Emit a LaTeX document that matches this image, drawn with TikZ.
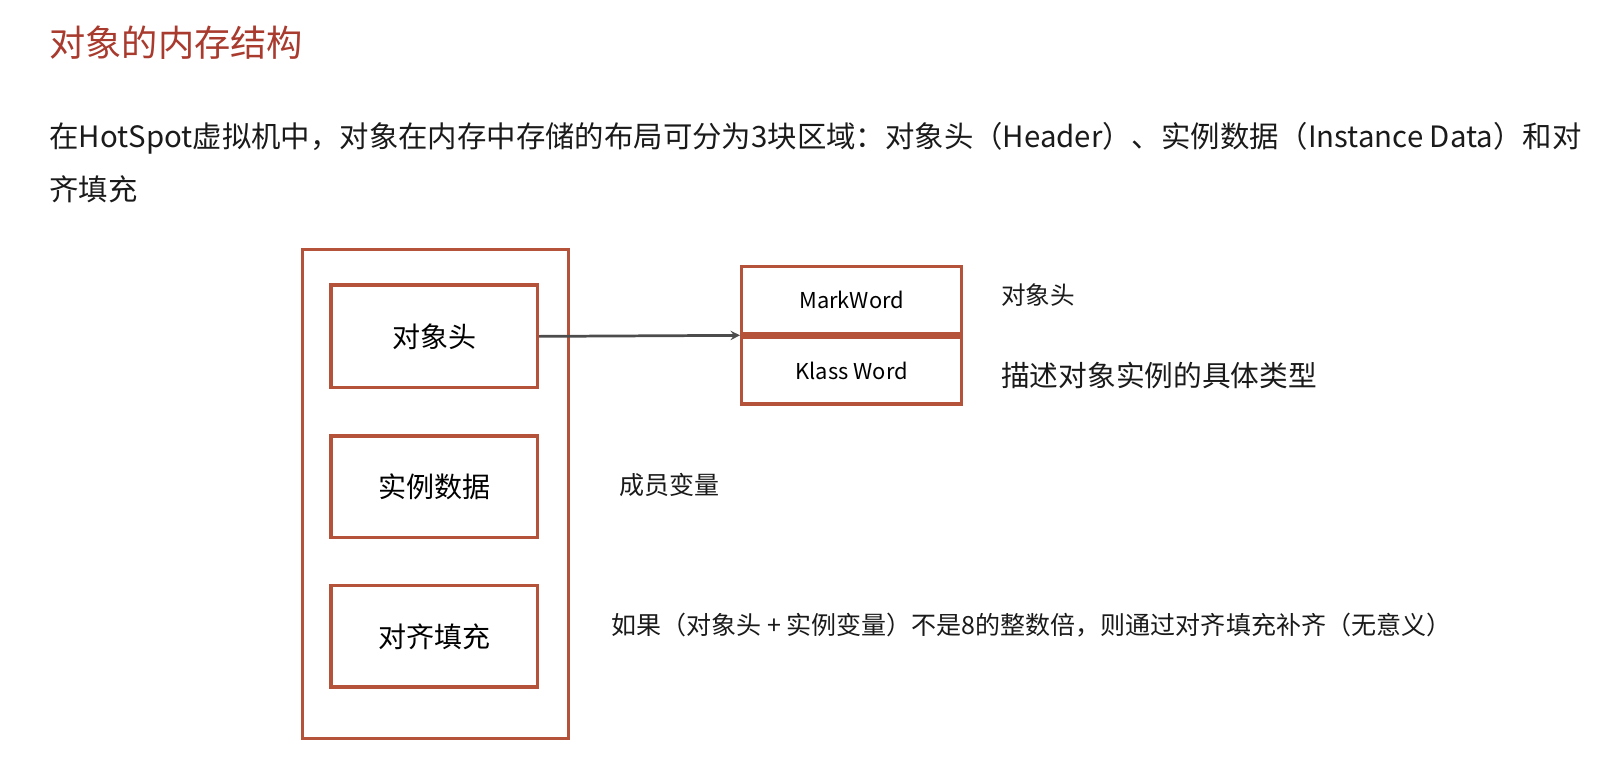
\documentclass[tikz,border=0pt]{standalone}
\usepackage{fontspec}
\setmainfont{Noto Sans CJK SC}
\definecolor{titlered}{HTML}{A83A2E}
\definecolor{boxc}{HTML}{B5533A}
\definecolor{txt}{HTML}{1A1A1A}
\begin{document}
\begin{tikzpicture}[x=0.75pt,y=-0.75pt,
  box/.style={draw=boxc,line width=2.4pt},
  lab/.style={text=txt,inner sep=0pt}]
\node[anchor=west,text=titlered,font=\fontsize{26.5}{30}\selectfont,inner sep=0pt] (title) at (48,42) {对象的内存结构};
\node[anchor=west,lab,font=\fontsize{21.5}{26}\selectfont] (p1) at (48,135) {在HotSpot虚拟机中，对象在内存中存储的布局可分为3块区域：对象头（Header）、实例数据（Instance Data）和对};
\node[anchor=west,lab,font=\fontsize{21.5}{26}\selectfont] (p2) at (48,185) {齐填充};
\draw[box] (295,243) rectangle (554,720);
\node[box,minimum width=151pt,minimum height=75pt,font=\fontsize{20.5}{24}\selectfont] (h) at (423.5,328) {对象头};
\node[box,minimum width=151pt,minimum height=74pt,font=\fontsize{20.5}{24}\selectfont] (d) at (423.5,474.5) {实例数据};
\node[box,minimum width=151pt,minimum height=74pt,font=\fontsize{20.5}{24}\selectfont] (f) at (423.5,620.5) {对齐填充};
\node[box,minimum width=161pt,minimum height=49pt,anchor=south,font=\fontsize{16}{18}\selectfont] (mw) at (830.5,327) {MarkWord};
\node[box,minimum width=161pt,minimum height=49pt,anchor=north,font=\fontsize{16}{18}\selectfont] (kw) at (830.5,327) {Klass Word};
\draw[line width=2pt,draw=black!70,-stealth] (h.east) -- (mw.south west);
\node[anchor=west,lab,font=\fontsize{18}{20}\selectfont] (l1) at (976,288) {对象头};
\node[anchor=west,lab,font=\fontsize{21}{24}\selectfont] (l2) at (976,366) {描述对象实例的具体类型};
\node[anchor=west,lab,font=\fontsize{18.3}{20}\selectfont] (l3) at (604,473) {成员变量};
\node[anchor=west,lab,font=\fontsize{18.3}{20}\selectfont] (l4) at (596,610) {如果（对象头 + 实例变量）不是8的整数倍，则通过对齐填充补齐（无意义）};
\pgfresetboundingbox
\useasboundingbox (0,0) rectangle (1567,738);
\end{tikzpicture}
\end{document}
